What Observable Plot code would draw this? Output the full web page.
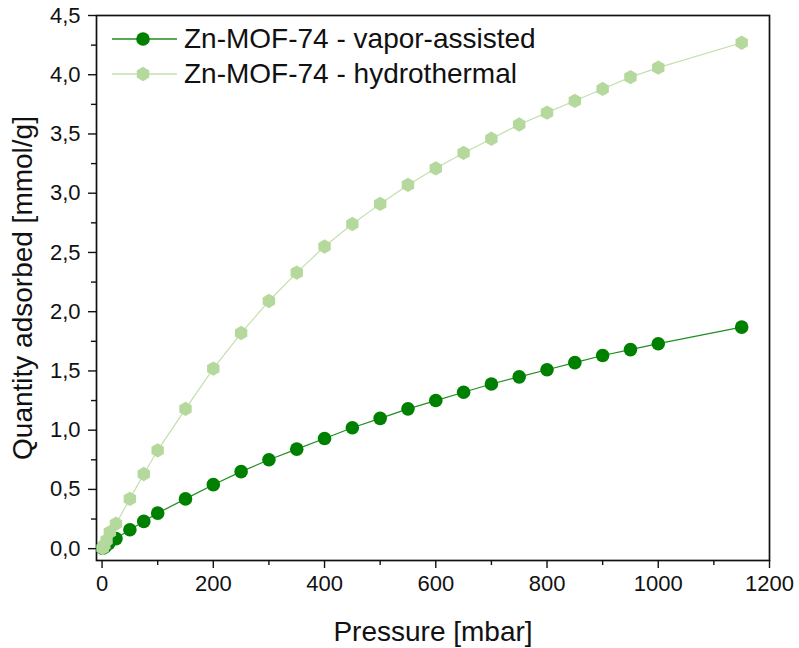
<!DOCTYPE html>
<html>
<head>
<meta charset="utf-8">
<script src="https://cdn.jsdelivr.net/npm/d3@7"></script>
<script src="https://cdn.jsdelivr.net/npm/@observablehq/plot@0.6"></script>
<style>
  html, body { margin: 0; padding: 0; background: white; }
  #wrap { position: relative; width: 799px; height: 648px; font-family: "Liberation Sans", Arial, sans-serif; }
  #legend { position: absolute; left: 110px; top: 21px; font-size: 28px; color: #111; }
  #legend .row { display: flex; align-items: center; height: 35px; }
  #legend svg { margin-right: 6px; }
</style>
</head>
<body>
<div id="wrap"><div id="legend"></div></div>
<script>
// Zn-MOF-74 - vapor-assisted
const vaporP = [1, 5, 12, 25, 50, 75, 100, 150, 200, 250, 300, 350, 400, 450, 500, 550, 600, 650, 700, 750, 800, 850, 900, 950, 1000, 1150];
const vaporQ = [0.003, 0.015, 0.045, 0.085, 0.16, 0.23, 0.30, 0.42, 0.54, 0.65, 0.75, 0.84, 0.93, 1.02, 1.10, 1.18, 1.25, 1.32, 1.39, 1.45, 1.51, 1.57, 1.63, 1.68, 1.73, 1.87];
// Zn-MOF-74 - hydrothermal
const hydroP = [1, 4, 8, 14, 25, 50, 75, 100, 150, 200, 250, 300, 350, 400, 450, 500, 550, 600, 650, 700, 750, 800, 850, 900, 950, 1000, 1150];
const hydroQ = [0.005, 0.03, 0.07, 0.14, 0.21, 0.42, 0.63, 0.83, 1.18, 1.52, 1.82, 2.09, 2.33, 2.55, 2.74, 2.91, 3.07, 3.21, 3.34, 3.46, 3.58, 3.68, 3.78, 3.88, 3.98, 4.06, 4.27];

const seriesNames = ["Zn-MOF-74 - vapor-assisted", "Zn-MOF-74 - hydrothermal"];
const seriesColors = ["#008000", "#b5d99d"];
const lineColors = ["#1f8f1f", "#c2e0ad"];

const xMajor = [0, 200, 400, 600, 800, 1000, 1200];
const xMinor = [100, 300, 500, 700, 900, 1100];
const yMajor = [0, 0.5, 1.0, 1.5, 2.0, 2.5, 3.0, 3.5, 4.0, 4.5];
const yMinor = [0.25, 0.75, 1.25, 1.75, 2.25, 2.75, 3.25, 3.75, 4.25];

const vapor = vaporP.map((p, i) => ({p, q: vaporQ[i]}));
const hydro = hydroP.map((p, i) => ({p, q: hydroQ[i]}));

const fmtY = d => d.toFixed(1).replace(".", ",");
const fmtX = d => String(d);

const chart = Plot.plot({
  width: 799,
  height: 648,
  marginLeft: 96,
  marginRight: 30,
  marginTop: 15,
  marginBottom: 88,
  style: {fontFamily: "'Liberation Sans', Arial, sans-serif", fontSize: "22px", color: "#111", background: "white", overflow: "visible"},
  x: {domain: [-10, 1200]},
  y: {domain: [-0.1, 4.5]},
  marks: [
    Plot.axisX({ticks: xMinor, tickSize: 5, text: null, strokeWidth: 1.4, label: null}),
    Plot.axisX({ticks: xMajor, tickSize: 8, tickPadding: 7, strokeWidth: 1.4, tickFormat: fmtX, fontSize: 22, label: null}),
    Plot.axisX({ticks: [], label: "Pressure [mbar]", labelAnchor: "center", labelArrow: "none", labelOffset: 80, fontSize: 28}),
    Plot.axisY({ticks: yMinor, tickSize: 5, text: null, strokeWidth: 1.4, label: null}),
    Plot.axisY({ticks: yMajor, tickSize: 8, tickPadding: 8, strokeWidth: 1.4, tickFormat: fmtY, fontSize: 22, label: null}),
    Plot.axisY({ticks: [], label: "Quantity adsorbed [mmol/g]", labelAnchor: "center", labelArrow: "none", labelOffset: 84, fontSize: 28}),
    Plot.frame({stroke: "#111", strokeWidth: 1.7}),
    Plot.line(vapor, {x: "p", y: "q", stroke: lineColors[0], strokeWidth: 1.2}),
    Plot.dot(vapor, {x: "p", y: "q", r: 6.8, fill: seriesColors[0], symbol: "circle"}),
    Plot.line(hydro, {x: "p", y: "q", stroke: lineColors[1], strokeWidth: 1.2}),
    Plot.dot(hydro, {x: "p", y: "q", r: 6.2, fill: seriesColors[1], symbol: "hexagon"})
  ]
});
document.getElementById("wrap").prepend(chart);

// legend
const legend = d3.select("#legend");
seriesNames.forEach((name, i) => {
  const row = legend.append("div").attr("class", "row");
  const s = row.append("svg").attr("width", 68).attr("height", 30);
  s.append("line").attr("x1", 2).attr("x2", 67).attr("y1", 15).attr("y2", 15)
    .attr("stroke", lineColors[i]).attr("stroke-width", 1.5);
  if (i === 0) {
    s.append("circle").attr("cx", 33).attr("cy", 15).attr("r", 6.8).attr("fill", seriesColors[i]);
  } else {
    const r = 6.2, ry = r * 2 / Math.sqrt(3), hy = ry / 2;
    s.append("path").attr("transform", "translate(33,15)")
      .attr("d", `M0,${ry}L${r},${hy}L${r},${-hy}L0,${-ry}L${-r},${-hy}L${-r},${hy}Z`)
      .attr("fill", seriesColors[i]);
  }
  row.append("span").text(name);
});
</script>
</body>
</html>
